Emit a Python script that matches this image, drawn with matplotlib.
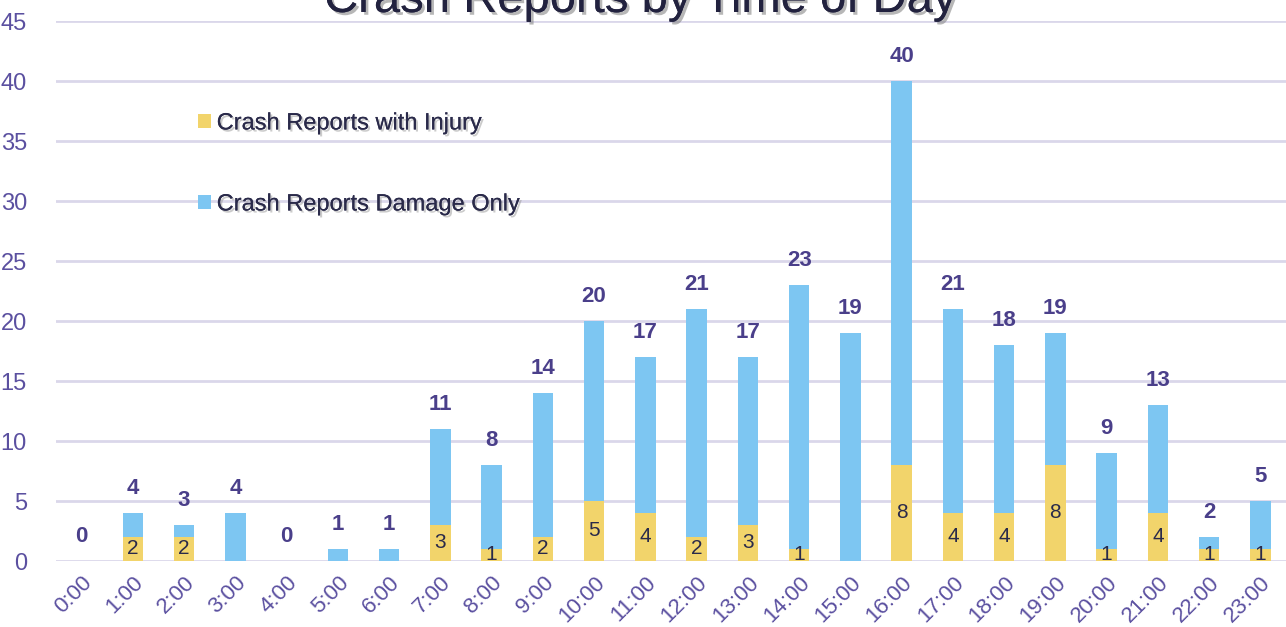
import matplotlib.pyplot as plt
import matplotlib.patheffects as pe
import numpy as np

plt.rcParams['font.family'] = ['Liberation Sans', 'DejaVu Sans']

# Data
hours = ['0:00', '1:00', '2:00', '3:00', '4:00', '5:00', '6:00', '7:00', '8:00', '9:00',
         '10:00', '11:00', '12:00', '13:00', '14:00', '15:00', '16:00', '17:00', '18:00',
         '19:00', '20:00', '21:00', '22:00', '23:00']
injury = [0, 2, 2, 0, 0, 0, 0, 3, 1, 2, 5, 4, 2, 3, 1, 0, 8, 4, 4, 8, 1, 4, 1, 1]
damage_only = [0, 2, 1, 4, 0, 1, 1, 8, 7, 12, 15, 13, 19, 14, 22, 19, 32, 17, 14, 11, 8, 9, 1, 4]
totals = [0, 4, 3, 4, 0, 1, 1, 11, 8, 14, 20, 17, 21, 17, 23, 19, 40, 21, 18, 19, 9, 13, 2, 5]

yellow = '#F2D46B'
blue = '#7DC6F2'
purple = '#5B50A0'
navy = '#2A2A4A'
grid_col = '#DAD7EA'

fig = plt.figure(figsize=(12.86, 6.27), dpi=100)
ax = fig.add_axes([56 / 1286, (627 - 561) / 627, 1 - 56 / 1286, 540 / 627])

x = np.arange(len(hours))
w = 0.4
shadow = [pe.withSimplePatchShadow(offset=(1.5, -1.5), shadow_rgbFace='#999999', alpha=0.5), pe.Normal()]

ax.bar(x, injury, w, color=yellow, label='Crash Reports with Injury', zorder=3)
ax.bar(x, damage_only, w, bottom=injury, color=blue, label='Crash Reports Damage Only', zorder=3)

# injury labels centred in the yellow segment
for xi, v in zip(x, injury):
    if v > 0:
        ax.text(xi, v / 2, str(v), ha='center', va='center', fontsize=15, color=navy, zorder=4)

# total labels above the bars
for xi, t in zip(x, totals):
    ax.text(xi, t + 2, str(t), ha='center', va='center', fontsize=16, fontweight='bold',
            color='#4A3F8A', zorder=4)

ax.set_xlim(-0.5, 23.5)
ax.set_ylim(0, 45)
ax.set_yticks(range(0, 46, 5))
ax.yaxis.grid(True, color=grid_col, linewidth=2, zorder=0)
ax.set_axisbelow(True)
for s in ax.spines.values():
    s.set_visible(False)
ax.tick_params(axis='both', length=0)
ax.tick_params(axis='y', labelsize=17, labelcolor=purple, pad=21)
ax.set_xticks(x)
ax.set_xticklabels(hours, rotation=45, ha='right', rotation_mode='anchor',
                   fontsize=16, color=purple)
ax.tick_params(axis='x', pad=8)

leg = ax.legend(loc='upper left', bbox_to_anchor=(0.098, 0.87), frameon=False,
                handlelength=0.55, handleheight=0.55, handletextpad=0.25,
                labelspacing=2.5, fontsize=17)
for t in leg.get_texts():
    t.set_color(navy)
    t.set_path_effects(shadow)

fig.text(0.498, 1.0, 'Crash Reports by Time of Day', ha='center', va='center',
         fontsize=34, color='#22223F',
         path_effects=[pe.withSimplePatchShadow(offset=(2, -2), shadow_rgbFace='#888888', alpha=0.6), pe.Normal()])

fig.savefig('out.png', dpi=100)
